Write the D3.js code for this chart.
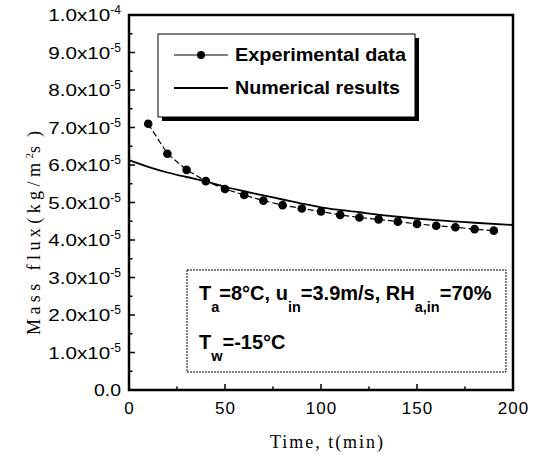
<!DOCTYPE html>
<html>
<head>
<meta charset="utf-8">
<script src="https://cdn.jsdelivr.net/npm/d3@7"></script>
<style>
  body { margin: 0; background: #fff; }
  svg { display: block; }
</style>
</head>
<body>
<svg id="chart"></svg>
<script>
// experimental data (t in min, mass flux in units of 1e-5 kg/m2s)
const expTime = [10, 20, 30, 40, 50, 60, 70, 80, 90, 100, 110, 120, 130, 140, 150, 160, 170, 180, 190]
const expFlux = [7.1, 6.3, 5.87, 5.57, 5.36, 5.2, 5.05, 4.93, 4.84, 4.76, 4.67, 4.6, 4.55, 4.49, 4.43, 4.38, 4.34, 4.29, 4.25]

// numerical results
const numTime = [0, 10, 20, 30, 40, 50, 60, 70, 80, 90, 100, 120, 140, 160, 180, 200]
const numFlux = [6.13, 5.95, 5.8, 5.68, 5.56, 5.42, 5.3, 5.19, 5.08, 4.97, 4.87, 4.74, 4.62, 4.53, 4.46, 4.4]

const xTicks = [0, 50, 100, 150, 200]
const yTicks = [0, 1, 2, 3, 4, 5, 6, 7, 8, 9, 10]
const legendLabels = ["Experimental data", "Numerical results"]

const width = 543, height = 457
const margin = { left: 129, right: 30, top: 15, bottom: 67 }

const svg = d3.select("#chart").attr("width", width).attr("height", height)

const x = d3.scaleLinear().domain([0, 200]).range([margin.left, width - margin.right])
const y = d3.scaleLinear().domain([0, 10]).range([height - margin.bottom, margin.top])

const sans = "'Liberation Sans', Arial, sans-serif"
const serif = "'Liberation Serif', 'Times New Roman', serif"

// ticks (inward)
const ax = svg.append("g")
d3.range(0, 10.01, 0.5).forEach(v => {
  const major = Math.abs(v - Math.round(v)) < 1e-6
  ax.append("line")
    .attr("x1", x(0)).attr("x2", x(0) + (major ? 6 : 3.5))
    .attr("y1", y(v)).attr("y2", y(v))
    .attr("stroke", "#000").attr("stroke-width", 1.5)
})
d3.range(0, 200.1, 25).forEach(v => {
  const major = v % 50 === 0
  ax.append("line")
    .attr("x1", x(v)).attr("x2", x(v))
    .attr("y1", y(0)).attr("y2", y(0) - (major ? 6 : 3.5))
    .attr("stroke", "#000").attr("stroke-width", 1.5)
})

// frame
svg.append("rect")
  .attr("x", x(0)).attr("y", y(10))
  .attr("width", x(200) - x(0)).attr("height", y(0) - y(10))
  .attr("fill", "none").attr("stroke", "#000").attr("stroke-width", 2.5)

// y tick labels
const yl = svg.append("g").attr("font-family", sans).attr("fill", "#000")
yTicks.forEach(v => {
  const t = yl.append("text").attr("x", x(0) - 8).attr("y", y(v) + 6).attr("text-anchor", "end")
    .attr("font-size", 17)
  if (v === 0) { t.attr("textLength", 27).attr("lengthAdjust", "spacingAndGlyphs").text("0.0"); return }
  const mant = v === 10 ? "1.0" : v.toFixed(1)
  const exp = v === 10 ? "-4" : "-5"
  t.append("tspan").attr("textLength", 62).attr("lengthAdjust", "spacingAndGlyphs").text(mant + "x10")
  t.append("tspan").attr("dy", -7).attr("font-size", 12).text(exp)
})

// x tick labels
svg.append("g").attr("font-family", sans).attr("font-size", 17).attr("letter-spacing", 1)
  .selectAll("text").data(xTicks).join("text")
  .attr("x", d => x(d) + 0.5).attr("y", y(0) + 24)
  .attr("text-anchor", "middle").text(d => d)

// axis titles
svg.append("text").attr("x", 270).attr("y", 448)
  .attr("font-family", serif).attr("font-size", 18)
  .attr("textLength", 113).attr("lengthAdjust", "spacing")
  .text("Time, t(min)")

const yt = svg.append("text")
  .attr("transform", `translate(40, 335) rotate(-90)`)
  .attr("font-family", serif).attr("font-size", 18)
yt.append("tspan").attr("textLength", 172).attr("lengthAdjust", "spacing").text("Mass flux(kg/m")
yt.append("tspan").attr("dy", -7).attr("font-size", 11).text("2")
yt.append("tspan").attr("dy", 7).attr("textLength", 22).attr("lengthAdjust", "spacing").text("s)")

// numerical line
const line = d3.line().x(d => x(d[0])).y(d => y(d[1])).curve(d3.curveMonotoneX)
svg.append("path")
  .datum(d3.zip(numTime, numFlux))
  .attr("d", line).attr("fill", "none").attr("stroke", "#000").attr("stroke-width", 1.8)

// experimental dashed line + markers
const expData = d3.zip(expTime, expFlux)
svg.append("path")
  .datum(expData)
  .attr("d", d3.line().x(d => x(d[0])).y(d => y(d[1])))
  .attr("fill", "none").attr("stroke", "#000").attr("stroke-width", 1.2)
  .attr("stroke-dasharray", "6,3")
svg.append("g").selectAll("circle").data(expData).join("circle")
  .attr("cx", d => x(d[0])).attr("cy", d => y(d[1])).attr("r", 4.3).attr("fill", "#000")

// legend
const lg = svg.append("g")
lg.append("rect").attr("x", 162).attr("y", 38).attr("width", 257).attr("height", 83).attr("fill", "#000")
lg.append("rect").attr("x", 158).attr("y", 34).attr("width", 257).attr("height", 83)
  .attr("fill", "#fff").attr("stroke", "#000").attr("stroke-width", 1)
lg.append("line").attr("x1", 174).attr("x2", 228).attr("y1", 55).attr("y2", 55).attr("stroke", "#000").attr("stroke-width", 1.2)
lg.append("circle").attr("cx", 201).attr("cy", 55).attr("r", 4).attr("fill", "#000")
lg.append("line").attr("x1", 174).attr("x2", 228).attr("y1", 88).attr("y2", 88).attr("stroke", "#000").attr("stroke-width", 1.8)
lg.selectAll("text.lab").data(legendLabels).join("text").attr("class", "lab")
  .attr("x", 235).attr("y", (d, i) => 61 + i * 33)
  .attr("font-family", sans).attr("font-size", 19).attr("font-weight", "bold")
  .attr("textLength", (d, i) => i === 0 ? 171 : 165).attr("lengthAdjust", "spacingAndGlyphs")
  .text(d => d)

// conditions box
const cb = svg.append("g").attr("font-family", sans).attr("font-weight", "bold")
cb.append("rect").attr("x", 187).attr("y", 270).attr("width", 319).attr("height", 102)
  .attr("fill", "#fff").attr("stroke", "#000").attr("stroke-width", 1).attr("stroke-dasharray", "2,1")
const line1 = [["T", "a"], ["=8°C, u", "in"], ["=3.9m/s, RH", "a,in"], ["=70%", null]]
const t1 = cb.append("text").attr("x", 199).attr("y", 300).attr("font-size", 20)
line1.forEach(([main, sub], i) => {
  t1.append("tspan").attr("dy", i === 0 ? 0 : -12).text(main)
  if (sub) t1.append("tspan").attr("dy", 12).attr("font-size", 14.5).text(sub)
})
const t2 = cb.append("text").attr("x", 199).attr("y", 349).attr("font-size", 20)
t2.append("tspan").text("T")
t2.append("tspan").attr("dy", 12).attr("font-size", 14.5).text("w")
t2.append("tspan").attr("dy", -12).text("=-15°C")
</script>
</body>
</html>
